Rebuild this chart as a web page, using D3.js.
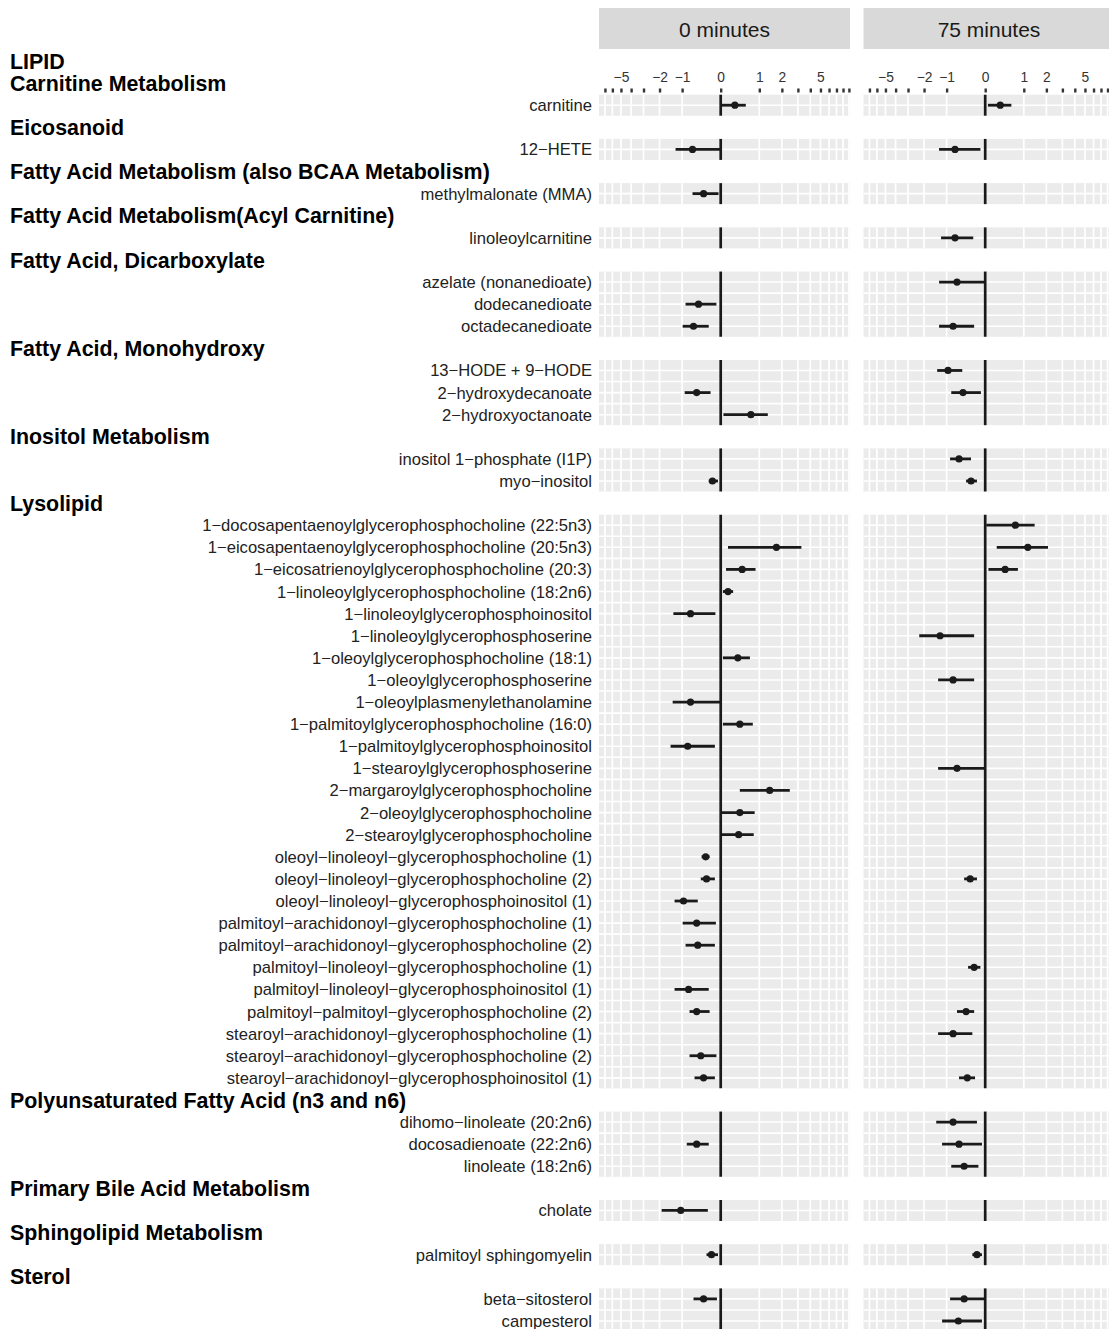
<!DOCTYPE html>
<html>
<head>
<meta charset="utf-8">
<script src="https://cdn.jsdelivr.net/npm/d3@7"></script>
<style>
  body { margin: 0; background: #fff; }
  svg { display: block; font-family: "Liberation Sans", Arial, Helvetica, sans-serif; }
</style>
</head>
<body>
<div id="vis"></div>
<script>

// ---- data ----
const SUPER_PATHWAY = "LIPID";

const SUB_PATHWAYS = [
  "Carnitine Metabolism",
  "Eicosanoid",
  "Fatty Acid Metabolism (also BCAA Metabolism)",
  "Fatty Acid Metabolism(Acyl Carnitine)",
  "Fatty Acid, Dicarboxylate",
  "Fatty Acid, Monohydroxy",
  "Inositol Metabolism",
  "Lysolipid",
  "Polyunsaturated Fatty Acid (n3 and n6)",
  "Primary Bile Acid Metabolism",
  "Sphingolipid Metabolism",
  "Sterol"
];

const METABOLITES = [
  "carnitine",
  "12−HETE",
  "methylmalonate (MMA)",
  "linoleoylcarnitine",
  "azelate (nonanedioate)",
  "dodecanedioate",
  "octadecanedioate",
  "13−HODE + 9−HODE",
  "2−hydroxydecanoate",
  "2−hydroxyoctanoate",
  "inositol 1−phosphate (I1P)",
  "myo−inositol",
  "1−docosapentaenoylglycerophosphocholine (22:5n3)",
  "1−eicosapentaenoylglycerophosphocholine (20:5n3)",
  "1−eicosatrienoylglycerophosphocholine (20:3)",
  "1−linoleoylglycerophosphocholine (18:2n6)",
  "1−linoleoylglycerophosphoinositol",
  "1−linoleoylglycerophosphoserine",
  "1−oleoylglycerophosphocholine (18:1)",
  "1−oleoylglycerophosphoserine",
  "1−oleoylplasmenylethanolamine",
  "1−palmitoylglycerophosphocholine (16:0)",
  "1−palmitoylglycerophosphoinositol",
  "1−stearoylglycerophosphoserine",
  "2−margaroylglycerophosphocholine",
  "2−oleoylglycerophosphocholine",
  "2−stearoylglycerophosphocholine",
  "oleoyl−linoleoyl−glycerophosphocholine (1)",
  "oleoyl−linoleoyl−glycerophosphocholine (2)",
  "oleoyl−linoleoyl−glycerophosphoinositol (1)",
  "palmitoyl−arachidonoyl−glycerophosphocholine (1)",
  "palmitoyl−arachidonoyl−glycerophosphocholine (2)",
  "palmitoyl−linoleoyl−glycerophosphocholine (1)",
  "palmitoyl−linoleoyl−glycerophosphoinositol (1)",
  "palmitoyl−palmitoyl−glycerophosphocholine (2)",
  "stearoyl−arachidonoyl−glycerophosphocholine (1)",
  "stearoyl−arachidonoyl−glycerophosphocholine (2)",
  "stearoyl−arachidonoyl−glycerophosphoinositol (1)",
  "dihomo−linoleate (20:2n6)",
  "docosadienoate (22:2n6)",
  "linoleate (18:2n6)",
  "cholate",
  "palmitoyl sphingomyelin",
  "beta−sitosterol",
  "campesterol"
];

// index into SUB_PATHWAYS for each metabolite
const PATHWAY_OF = [
  0, 1, 2, 3, 4, 4, 4, 5, 5, 5, 6, 6,
  7, 7, 7, 7, 7, 7, 7, 7, 7, 7, 7, 7, 7, 7, 7, 7, 7, 7, 7, 7, 7, 7, 7, 7, 7, 7,
  8, 8, 8, 9, 10, 11, 11
];

// 0 minutes: estimate, lower, upper (null = not shown)
const EST_0 = [
  0.29, -0.66, -0.36, null, null, -0.49, -0.63, null, -0.54, 0.72, null, -0.16,
  null, 1.72, 0.47, 0.14, -0.72, null, 0.36, null, -0.72, 0.41, -0.81, null,
  1.41, 0.41, 0.38, -0.31, -0.29, -0.95, -0.54, -0.51, null, -0.78, -0.54, null,
  -0.43, -0.36, null, -0.54, null, -1.05, -0.18, -0.36, null
];
const LOW_0 = [
  0.02, -1.25, -0.66, null, null, -0.88, -0.98, null, -0.91, 0.05, null, -0.24,
  null, 0.14, 0.10, 0.04, -1.34, null, 0.04, null, -1.37, 0.04, -1.46, null,
  0.41, 0.02, 0.02, -0.41, -0.43, -1.29, -0.98, -0.88, null, -1.29, -0.75, null,
  -0.75, -0.60, null, -0.84, null, -1.89, -0.29, -0.63, null
];
const HIGH_0 = [
  0.57, 0.0, -0.04, null, null, -0.08, -0.24, null, -0.20, 1.33, null, -0.05,
  null, 3.26, 0.87, 0.25, -0.10, null, 0.69, null, 0.02, 0.78, -0.11, null,
  2.46, 0.84, 0.81, -0.22, -0.11, -0.51, -0.09, -0.11, null, -0.24, -0.22, null,
  -0.08, -0.11, null, -0.24, null, -0.26, -0.05, -0.07, null
];

// 75 minutes
const EST_75 = [
  0.31, -0.72, null, -0.72, -0.66, null, -0.78, -0.95, -0.49, null, -0.60, -0.29,
  0.72, 1.15, 0.43, null, null, -1.25, null, -0.78, null, null, null, -0.66,
  null, null, null, null, -0.31, null, null, null, -0.22, null, -0.41, -0.78,
  null, -0.38, -0.78, -0.60, -0.46, null, -0.16, -0.46, -0.62
];
const LOW_75 = [
  0.05, -1.29, null, -1.21, -1.29, null, -1.29, -1.37, -0.84, null, -0.88, -0.41,
  0.02, 0.23, 0.06, null, null, -2.27, null, -1.33, null, null, null, -1.33,
  null, null, null, null, -0.46, null, null, null, -0.36, null, -0.66, -1.33,
  null, -0.60, -1.41, -1.17, -0.84, null, -0.26, -0.88, -1.17
];
const HIGH_75 = [
  0.60, -0.09, null, -0.24, 0.0, null, -0.22, -0.51, -0.08, null, -0.29, -0.16,
  1.43, 2.09, 0.80, null, null, -0.22, null, -0.22, null, null, null, 0.0,
  null, null, null, null, -0.16, null, null, null, -0.09, null, -0.22, -0.26,
  null, -0.20, -0.16, -0.06, -0.13, null, -0.06, 0.0, -0.06
];

const PANELS = ["0 minutes", "75 minutes"];
const TICK_VALUES = d3.range(-7, 10);
const TICK_LABELS = [-5, -2, -1, 0, 1, 2, 5];


// ---- frame constants ----
const FRAME_WIDTH = 1109;
const FRAME_HEIGHT = 1329;
const PANEL_X = [599, 863.5];
const PANEL_W = 251;
const LABEL_X = 592;
const HALF_ROW = 10.5;

const FRAME = d3.select("#vis")
  .append("svg")
    .attr("width", FRAME_WIDTH)
    .attr("height", FRAME_HEIGHT);

// build row slots: super header, then each sub-pathway header followed by its metabolites
const slots = [{ key: "super", kind: "super", label: SUPER_PATHWAY }];
SUB_PATHWAYS.forEach((p, pi) => {
  slots.push({ key: "h" + pi, kind: "header", label: p });
  METABOLITES.forEach((m, mi) => {
    if (PATHWAY_OF[mi] === pi) slots.push({ key: "m" + mi, kind: "row", label: m, idx: mi });
  });
});

const Y_SCALE = d3.scalePoint()
  .domain(slots.map(d => d.key))
  .range([61, 1321]);

const X_SCALE = d3.scaleSymlog()
  .constant(1)
  .domain([-7.9, 9.2])
  .range([0, PANEL_W]);

const SERIES = [
  { est: EST_0, low: LOW_0, high: HIGH_0 },
  { est: EST_75, low: LOW_75, high: HIGH_75 }
];

// group extents (top/bottom of grey bands)
const groups = SUB_PATHWAYS.map((p, pi) => {
  const rows = METABOLITES.map((m, mi) => mi).filter(mi => PATHWAY_OF[mi] === pi);
  const ys = rows.map(mi => Y_SCALE("m" + mi));
  return { rows: rows, top: d3.min(ys) - HALF_ROW, bottom: d3.max(ys) + HALF_ROW };
});


// ---- headers and row labels ----
FRAME.selectAll(".hdr")
  .data(slots.filter(d => d.kind !== "row"))
  .enter()
  .append("text")
    .attr("x", 10)
    .attr("y", d => Y_SCALE(d.key))
    .attr("dy", "0.36em")
    .attr("font-size", "21.4px")
    .attr("font-weight", "bold")
    .attr("fill", "#000")
    .text(d => d.label);

FRAME.selectAll(".rowlab")
  .data(slots.filter(d => d.kind === "row"))
  .enter()
  .append("text")
    .attr("x", LABEL_X)
    .attr("y", d => Y_SCALE(d.key))
    .attr("dy", "0.36em")
    .attr("text-anchor", "end")
    .attr("font-size", "16.6px")
    .attr("fill", "#222")
    .text(d => d.label);


// ---- panels ----
PANELS.forEach((title, k) => {
  const g = FRAME.append("g")
    .attr("transform", "translate(" + PANEL_X[k] + ",0)");

  // strip
  g.append("rect")
    .attr("x", 0).attr("y", 8)
    .attr("width", PANEL_W).attr("height", 41)
    .attr("fill", "#D9D9D9");
  g.append("text")
    .attr("x", PANEL_W / 2).attr("y", 29)
    .attr("dy", "0.36em")
    .attr("text-anchor", "middle")
    .attr("font-size", "21px")
    .attr("fill", "#1A1A1A")
    .text(title);

  // top axis
  const axis = g.append("g")
    .attr("transform", "translate(0,92.5)")
    .call(d3.axisTop(X_SCALE)
      .tickValues(TICK_VALUES)
      .tickSize(4)
      .tickPadding(7)
      .tickFormat(v => TICK_LABELS.includes(v) ? d3.format("d")(v) : ""));
  axis.select(".domain").remove();
  axis.selectAll(".tick line").attr("stroke", "#333").attr("stroke-width", 2.4);
  axis.selectAll(".tick text")
    .attr("font-size", "13.8px")
    .attr("font-family", "'Liberation Sans', Arial, sans-serif")
    .attr("fill", "#333");

  groups.forEach(grp => {
    // grey band
    g.append("rect")
      .attr("x", 0).attr("y", grp.top)
      .attr("width", PANEL_W).attr("height", grp.bottom - grp.top)
      .attr("fill", "#EBEBEB");

    // vertical grid
    g.selectAll(null)
      .data(TICK_VALUES)
      .enter()
      .append("line")
        .attr("x1", d => X_SCALE(d)).attr("x2", d => X_SCALE(d))
        .attr("y1", grp.top).attr("y2", grp.bottom)
        .attr("stroke", "#fff").attr("stroke-width", 1.7);

    // horizontal grid: row centres and midpoints between rows
    const hy = [];
    grp.rows.forEach((mi, i) => {
      const y = Y_SCALE("m" + mi);
      hy.push(y);
      if (i > 0) hy.push((y + Y_SCALE("m" + grp.rows[i - 1])) / 2);
    });
    g.selectAll(null)
      .data(hy)
      .enter()
      .append("line")
        .attr("x1", 0).attr("x2", PANEL_W)
        .attr("y1", d => d).attr("y2", d => d)
        .attr("stroke", "#fff").attr("stroke-width", 1.6);

    // zero line
    g.append("line")
      .attr("x1", X_SCALE(0)).attr("x2", X_SCALE(0))
      .attr("y1", grp.top).attr("y2", grp.bottom)
      .attr("stroke", "#1A1A1A").attr("stroke-width", 2.7);
  });

  // error bars and points
  const s = SERIES[k];
  const pts = METABOLITES.map((m, mi) => ({ mi: mi, est: s.est[mi], low: s.low[mi], high: s.high[mi] }))
    .filter(d => d.est !== null);

  g.selectAll(".bar")
    .data(pts)
    .enter()
    .append("line")
      .attr("x1", d => X_SCALE(d.low))
      .attr("x2", d => X_SCALE(d.high))
      .attr("y1", d => Y_SCALE("m" + d.mi))
      .attr("y2", d => Y_SCALE("m" + d.mi))
      .attr("stroke", "#1A1A1A")
      .attr("stroke-width", 2.8);

  g.selectAll(".point")
    .data(pts)
    .enter()
    .append("circle")
      .attr("cx", d => X_SCALE(d.est))
      .attr("cy", d => Y_SCALE("m" + d.mi))
      .attr("r", 3.6)
      .attr("fill", "#1A1A1A");
});

</script>
</body>
</html>
